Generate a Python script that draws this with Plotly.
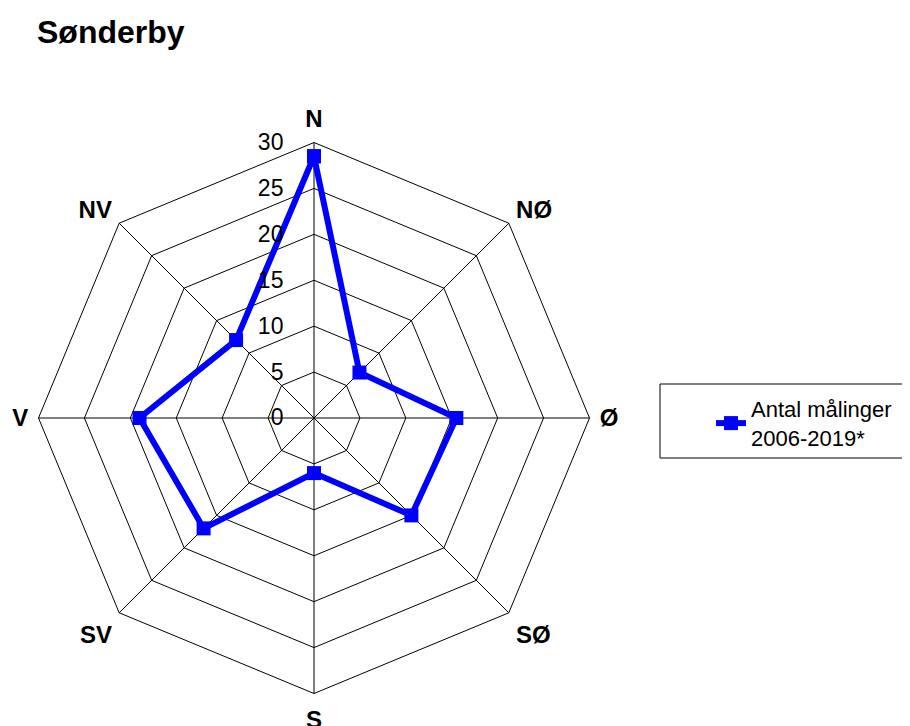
import plotly.graph_objects as go

directions = ["N", "NØ", "Ø", "SØ", "S", "SV", "V", "NV"]
counts = [28.5, 7, 15.5, 15, 6, 17, 19, 12]
series_name = "Antal målinger<br>2006-2019*"
title_text = "Sønderby"
radial_ticks = [0, 5, 10, 15, 20, 25, 30]

W, H = 910, 726
OFF = 8  # page body margin
cx, cy, R = 314 - OFF, 418 - OFF, 275.5

fig = go.Figure()
fig.add_trace(go.Scatterpolar(
    r=counts + [counts[0]],
    theta=directions + [directions[0]],
    mode="lines+markers",
    name=series_name,
    line=dict(color="#0000FF", width=6),
    marker=dict(symbol="square", size=14, color="#0000FF"),
))

fig.update_layout(
    width=W, height=H,
    margin=dict(l=0, r=0, t=0, b=0),
    paper_bgcolor="white",
    plot_bgcolor="white",
    font=dict(family="Liberation Sans, Arial, sans-serif", color="black"),
    title=dict(text="<b>" + title_text + "</b>", x=(37 - OFF) / W, xanchor="left",
               y=1 - (32 - OFF) / H, yanchor="middle",
               font=dict(size=32, color="black")),
    polar=dict(
        domain=dict(x=[(cx - R) / W, (cx + R) / W], y=[1 - (cy + R) / H, 1 - (cy - R) / H]),
        bgcolor="white",
        gridshape="linear",
        radialaxis=dict(
            range=[0, 30], tickvals=radial_ticks, angle=90,
            tickangle=90, side="counterclockwise",
            showline=False, gridcolor="black", gridwidth=1,
            ticks="outside", ticklen=22, tickcolor="rgba(0,0,0,0)",
            tickfont=dict(size=23, color="black"),
        ),
        angularaxis=dict(
            categoryarray=directions, type="category",
            direction="clockwise", rotation=90,
            showline=True, linecolor="black", linewidth=1,
            gridcolor="black", gridwidth=1,
            ticks="outside", ticklen=5, tickcolor="rgba(0,0,0,0)",
            tickmode="array", tickvals=directions,
            ticktext=["<b>" + d + "</b>" for d in directions],
            tickfont=dict(size=24, color="black"),
        ),
    ),
    showlegend=True,
    legend=dict(
        x=(711 - OFF) / W, y=1 - (388 - OFF) / H, xanchor="left", yanchor="top",
        bgcolor="rgba(0,0,0,0)", borderwidth=0,
        font=dict(size=22, color="black"),
    ),
    shapes=[dict(type="rect", xref="paper", yref="paper",
                 x0=(660 - OFF) / W, x1=1.02, y0=1 - (458 - OFF) / H, y1=1 - (384 - OFF) / H,
                 line=dict(color="black", width=1), fillcolor="rgba(0,0,0,0)")],
)

fig.write_html("out.html")
